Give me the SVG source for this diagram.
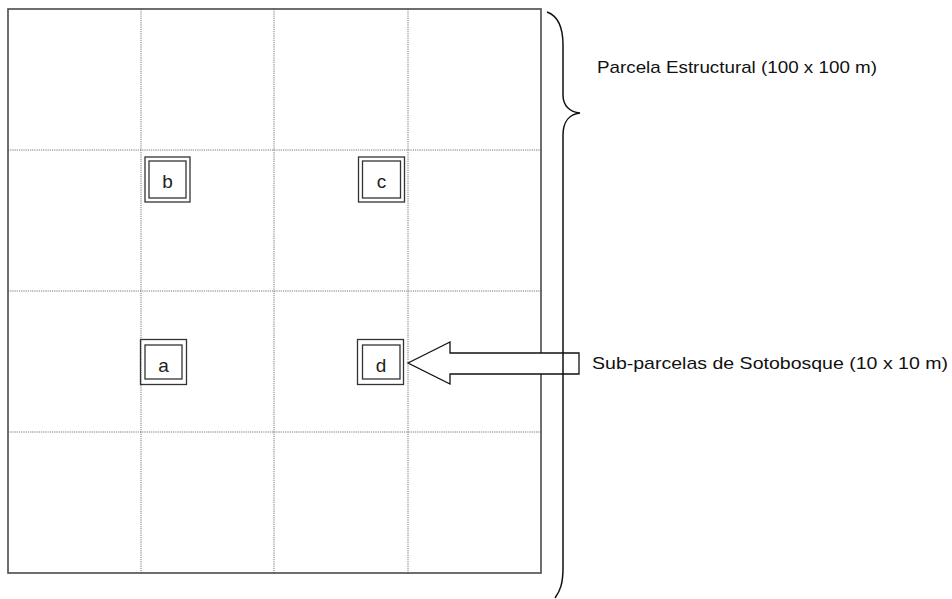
<svg xmlns="http://www.w3.org/2000/svg" width="952" height="599" viewBox="0 0 952 599">
<style>
.grid{stroke:#777;stroke-width:1;stroke-dasharray:1.2,1;fill:none}
.box{fill:none;stroke:#333;stroke-width:1.3}
.lbl{font-family:"Liberation Sans",Arial,sans-serif;font-size:19px;fill:#222;text-anchor:middle}
.txt{font-family:"Liberation Sans",Arial,sans-serif;font-size:17px;fill:#111}
</style>
<rect width="952" height="599" fill="#fff"/>
<g id="plot">
<line class="grid" x1="141" y1="9" x2="141" y2="573"/>
<line class="grid" x1="274" y1="9" x2="274" y2="573"/>
<line class="grid" x1="408" y1="9" x2="408" y2="573"/>
<line class="grid" x1="8" y1="150" x2="541" y2="150"/>
<line class="grid" x1="8" y1="291" x2="541" y2="291"/>
<line class="grid" x1="8" y1="432" x2="541" y2="432"/>
<rect x="8" y="9" width="533" height="564" fill="none" stroke="#4a4a4a" stroke-width="1.6"/>
</g>
<g id="sub-b">
<rect class="box" x="145" y="157" width="45" height="45"/>
<rect class="box" x="149" y="161" width="37" height="37"/>
<text class="lbl" x="167.5" y="187.5">b</text>
</g>
<g id="sub-c">
<rect class="box" x="358.5" y="157" width="46" height="45"/>
<rect class="box" x="362.5" y="161" width="38" height="37"/>
<text class="lbl" x="381.5" y="187.5">c</text>
</g>
<g id="sub-a">
<rect class="box" x="140.5" y="339.5" width="46" height="45"/>
<rect class="box" x="145" y="345" width="37" height="34"/>
<text class="lbl" x="163.5" y="371.5">a</text>
</g>
<g id="sub-d">
<rect class="box" x="357.5" y="339.5" width="46" height="45"/>
<rect class="box" x="362.5" y="345" width="37.5" height="34"/>
<text class="lbl" x="381" y="371.5">d</text>
</g>
<g id="connectors">
<path d="M408,363 L450,342 L450,353 L579,353 L579,374 L450,374 L450,384 Z" fill="#fff" stroke="#111" stroke-width="1.3" stroke-linejoin="miter"/>
<path d="M547,12 C558,16 563,26 563,45 L563,95 C563,106 570,112 580,113 C570,114 563,121 563,135 L563,568 C563,584 560,591 555,598" fill="none" stroke="#111" stroke-width="1.5"/>
</g>
<g id="labels">
<text class="txt" x="597" y="73" textLength="280" lengthAdjust="spacingAndGlyphs">Parcela Estructural (100 x 100 m)</text>
<text class="txt" x="592" y="369" textLength="356" lengthAdjust="spacingAndGlyphs">Sub-parcelas de Sotobosque (10 x 10 m)</text>
</g>
</svg>
